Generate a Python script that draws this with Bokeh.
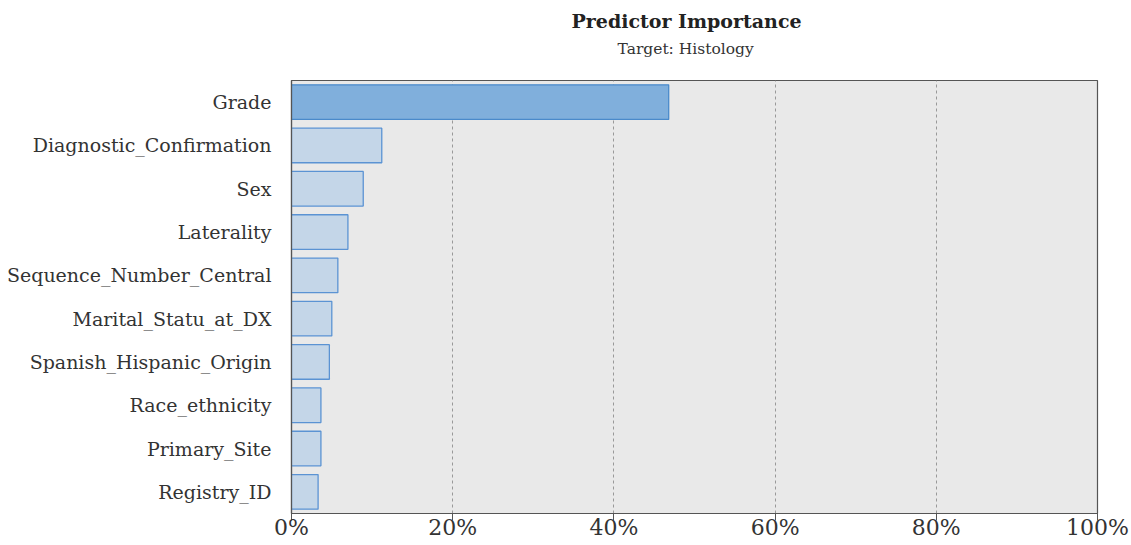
from bokeh.plotting import figure
from bokeh.models import FactorRange, Range1d, FixedTicker, PrintfTickFormatter, Title
from bokeh.embed import file_html
from bokeh.resources import INLINE

predictors = ["Grade", "Diagnostic_Confirmation", "Sex", "Laterality",
              "Sequence_Number_Central", "Marital_Statu_at_DX",
              "Spanish_Hispanic_Origin", "Race_ethnicity", "Primary_Site",
              "Registry_ID"]
importance = [46.8, 11.2, 8.9, 7.0, 5.75, 5.0, 4.7, 3.65, 3.65, 3.3]
x_ticks = [0, 20, 40, 60, 80, 100]

fills = ["#80afdc"] + ["#c4d6e8"] * (len(predictors) - 1)
lines = ["#4a8acb"] + ["#5b93d3"] * (len(predictors) - 1)

p = figure(width=1131, height=545, output_backend="svg", toolbar_location=None,
           y_range=FactorRange(*reversed(predictors), range_padding=0),
           x_range=Range1d(0, 100),
           min_border_left=291, min_border_right=34,
           min_border_top=80, min_border_bottom=32)

p.hbar(y=predictors, right=importance, left=0, height=0.8,
       fill_color=fills, line_color=lines, line_width=1.3)

p.background_fill_color = "#e9e9e9"
p.border_fill_color = "white"
p.outline_line_color = "#555555"
p.outline_line_width = 1.2

p.xaxis.ticker = FixedTicker(ticks=x_ticks)
p.xaxis.formatter = PrintfTickFormatter(format="%d%%")
p.xaxis.minor_tick_line_color = None
p.xaxis.major_tick_out = 7
p.xaxis.major_tick_in = 0
p.xaxis.major_tick_line_color = "#555555"
p.xaxis.axis_line_color = "#555555"
p.xaxis.axis_line_width = 1.2
p.xaxis.major_label_text_font = "DejaVu Serif"
p.xaxis.major_label_text_font_size = "22px"
p.xaxis.major_label_text_color = "#333333"
p.xaxis.major_label_standoff = -6

p.yaxis.major_tick_line_color = None
p.yaxis.minor_tick_line_color = None
p.yaxis.axis_line_color = "#555555"
p.yaxis.axis_line_width = 1.2
p.yaxis.major_label_text_font = "DejaVu Serif"
p.yaxis.major_label_text_font_size = "19px"
p.yaxis.major_label_text_color = "#333333"
p.yaxis.major_label_standoff = 14

p.ygrid.grid_line_color = None
p.xgrid.grid_line_color = "#999999"
p.xgrid.grid_line_dash = "3 3"
p.xgrid.grid_line_width = 1

# spacer between subtitle and plot frame
p.add_layout(Title(text=" ", text_font_size="10px", standoff=10), "above")
p.add_layout(Title(text="Target: Histology", align="left", text_font="DejaVu Serif",
                   text_font_size="15.5px", text_font_style="normal",
                   text_color="#333333", offset=326, standoff=0), "above")
p.add_layout(Title(text="Predictor Importance", align="left", text_font="DejaVu Serif",
                   text_font_size="19px", text_font_style="bold",
                   text_color="#222222", offset=280, standoff=11), "above")

open("out.html", "w").write(file_html(p, INLINE))
